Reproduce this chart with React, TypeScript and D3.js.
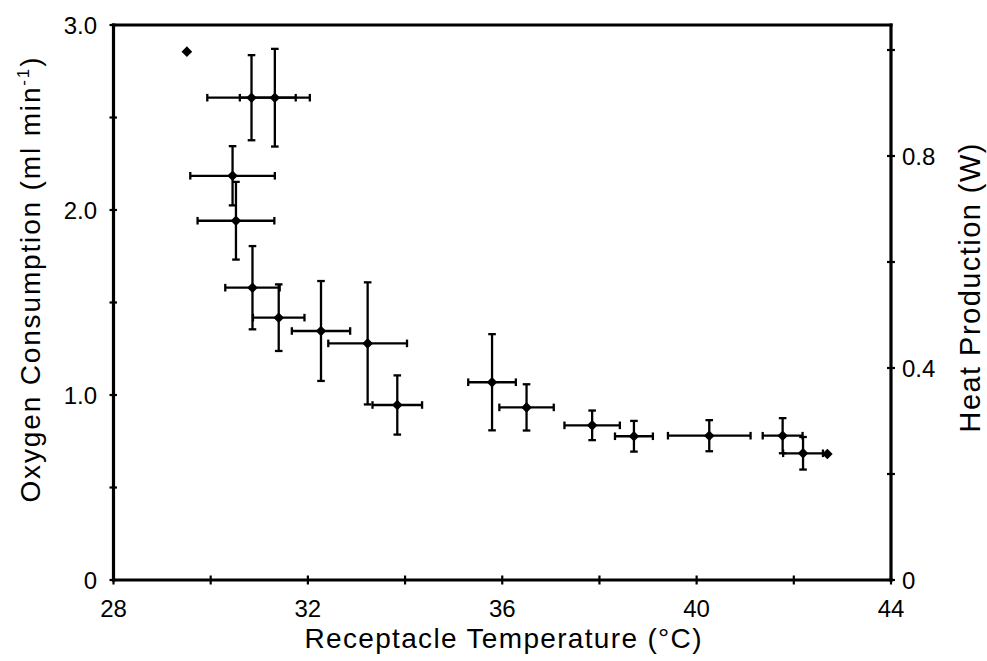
import React from "react";
import * as d3 from "d3";

const temps = [29.51, 30.84, 31.32, 30.45, 30.52, 30.86, 31.4, 32.27, 33.23, 33.84, 35.79, 36.5, 37.85, 38.71, 40.26, 41.77, 42.19, 42.69];
const o2 = [2.856, 2.607, 2.607, 2.185, 1.942, 1.58, 1.418, 1.346, 1.279, 0.946, 1.069, 0.933, 0.836, 0.777, 0.78, 0.78, 0.685, 0.681];
const tempErr = [0, 0.91, 0.72, 0.87, 0.79, 0.56, 0.53, 0.6, 0.81, 0.51, 0.49, 0.56, 0.57, 0.39, 0.85, 0.41, 0.41, 0];
const o2Err = [0, 0.23, 0.264, 0.16, 0.21, 0.225, 0.18, 0.27, 0.33, 0.16, 0.26, 0.125, 0.08, 0.083, 0.084, 0.095, 0.088, 0];

const xTicks = [28, 30, 32, 34, 36, 38, 40, 42, 44];
const xTickLabels = ["28", "", "32", "", "36", "", "40", "", "44"];
const yTicks = [0, 0.5, 1.0, 1.5, 2.0, 2.5, 3.0];
const yTickLabels = ["0", "", "1.0", "", "2.0", "", "3.0"];
const yRTicks = [0, 0.2, 0.4, 0.6, 0.8, 1.0];
const yRTickLabels = ["0", "", "0.4", "", "0.8", ""];

const FONT = "'Liberation Sans', Arial, Helvetica, sans-serif";

export default function App() {
  const W = 987, H = 661;
  const x = d3.scaleLinear().domain([28, 44]).range([113.5, 891]);
  const y = d3.scaleLinear().domain([0, 3]).range([580, 25]);
  const yR = d3.scaleLinear().domain([0, 1]).range([580, 50]);
  const diamond = d3.symbol().type(d3.symbolSquare).size(56)() as string;
  const cap = 3.8;
  const data = temps.map((t, i) => ({ t, v: o2[i], et: tempErr[i], ev: o2Err[i] }));

  return (
    <svg width={W} height={H} style={{ position: "absolute", left: 0, top: 0, background: "#fff" }} fontFamily={FONT}>
      <rect x={0} y={0} width={W} height={H} fill="#fff" />
      {/* frame */}
      <g stroke="#000" strokeWidth={3.2} fill="none" strokeLinecap="square">
        <line x1={x(28)} y1={y(0)} x2={x(44)} y2={y(0)} />
        <line x1={x(28)} y1={y(3)} x2={x(44)} y2={y(3)} />
        <line x1={x(28)} y1={y(0)} x2={x(28)} y2={y(3)} />
        <line x1={x(44)} y1={y(0)} x2={x(44)} y2={y(3)} />
      </g>
      {/* ticks */}
      <g stroke="#000" strokeWidth={2.2}>
        {xTicks.map((t) => (
          <line key={"xt" + t} x1={x(t)} x2={x(t)} y1={y(0) - 4.5} y2={y(0) + 4.5} />
        ))}
        {yTicks.map((t) => (
          <line key={"yt" + t} x1={x(28) - 4} x2={x(28) + 3.5} y1={y(t)} y2={y(t)} />
        ))}
        {yRTicks.map((t) => (
          <line key={"yr" + t} x1={x(44) - 4} x2={x(44) + 4} y1={yR(t)} y2={yR(t)} />
        ))}
      </g>
      {/* tick labels */}
      <g fontSize={24} fill="#000">
        {xTicks.map((t, i) =>
          xTickLabels[i] ? (
            <text key={"xl" + t} x={x(t)} y={617} textAnchor="middle">{xTickLabels[i]}</text>
          ) : null
        )}
        {yTicks.map((t, i) =>
          yTickLabels[i] ? (
            <text key={"yl" + t} x={97} y={y(t) + 9} textAnchor="end">{yTickLabels[i]}</text>
          ) : null
        )}
        {yRTicks.map((t, i) =>
          yRTickLabels[i] ? (
            <text key={"rl" + t} x={902} y={yR(t) + 9} textAnchor="start">{yRTickLabels[i]}</text>
          ) : null
        )}
      </g>
      {/* axis titles */}
      <text x={503} y={648} fontSize={28} textAnchor="middle" textLength={397} lengthAdjust="spacing">
        Receptacle  Temperature (°C)
      </text>
      <text transform="translate(40,280) rotate(-90)" fontSize={28} textAnchor="middle" textLength={445} lengthAdjust="spacing">
        Oxygen  Consumption  (ml min<tspan fontSize={17} dy={-11}>-1</tspan><tspan dy={11}>)</tspan>
      </text>
      <text transform="translate(980,288) rotate(-90)" fontSize={29} textAnchor="middle" textLength={289} lengthAdjust="spacing">
        Heat Production  (W)
      </text>
      {/* error bars */}
      <g stroke="#000" strokeWidth={2.3} fill="none">
        {data.map((d, i) =>
          d.ev > 0 ? (
            <g key={"e" + i}>
              <line x1={x(d.t)} x2={x(d.t)} y1={y(d.v - d.ev)} y2={y(d.v + d.ev)} />
              <line x1={x(d.t) - cap} x2={x(d.t) + cap} y1={y(d.v - d.ev)} y2={y(d.v - d.ev)} />
              <line x1={x(d.t) - cap} x2={x(d.t) + cap} y1={y(d.v + d.ev)} y2={y(d.v + d.ev)} />
              <line x1={x(d.t - d.et)} x2={x(d.t + d.et)} y1={y(d.v)} y2={y(d.v)} />
              <line x1={x(d.t - d.et)} x2={x(d.t - d.et)} y1={y(d.v) - cap} y2={y(d.v) + cap} />
              <line x1={x(d.t + d.et)} x2={x(d.t + d.et)} y1={y(d.v) - cap} y2={y(d.v) + cap} />
            </g>
          ) : null
        )}
      </g>
      {/* markers */}
      <g fill="#000">
        {data.map((d, i) => (
          <path key={"m" + i} d={diamond} transform={`translate(${x(d.t)},${y(d.v)}) rotate(45)`} />
        ))}
      </g>
    </svg>
  );
}
